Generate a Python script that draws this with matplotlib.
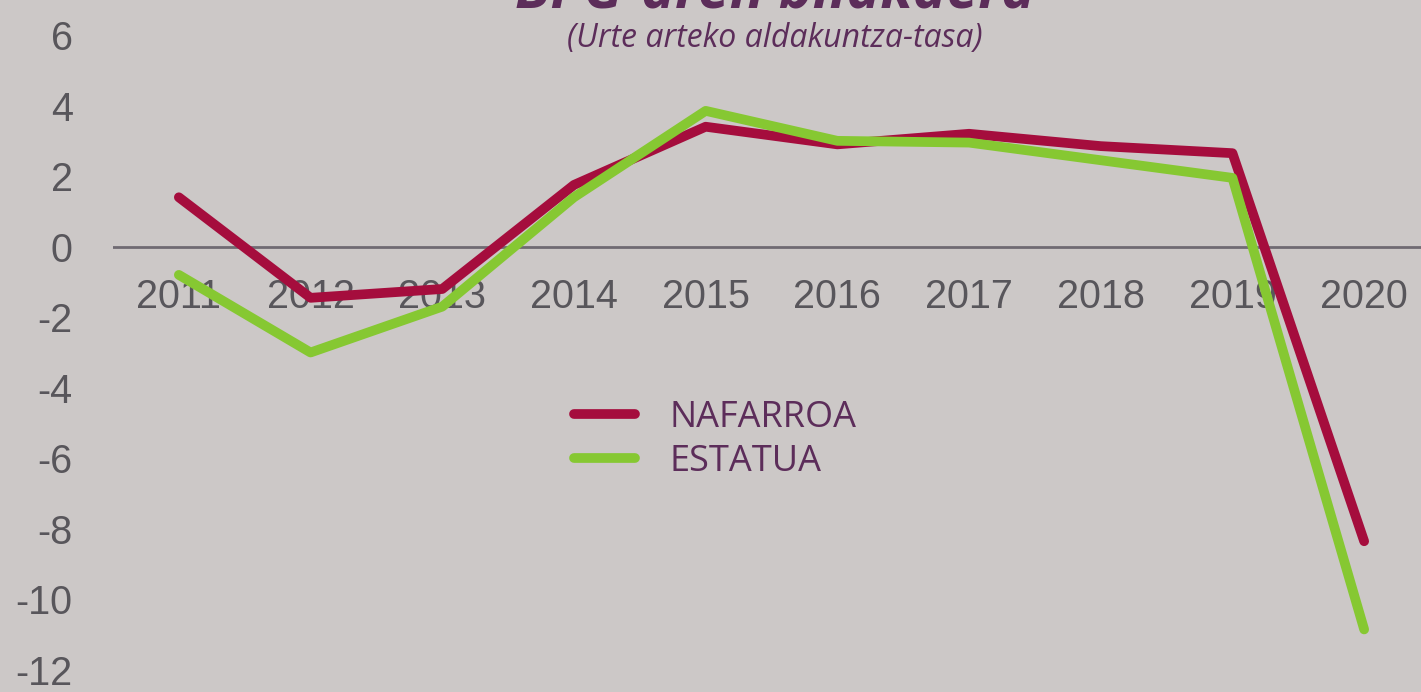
import matplotlib
matplotlib.use("Agg")
import matplotlib.pyplot as plt
from matplotlib.lines import Line2D

years = [2011, 2012, 2013, 2014, 2015, 2016, 2017, 2018, 2019, 2020]
nafarroa = [1.4, -1.45, -1.2, 1.75, 3.4, 2.9, 3.2, 2.85, 2.65, -8.35]
estatua = [-0.8, -3.0, -1.7, 1.4, 3.85, 3.0, 2.95, 2.45, 1.95, -10.85]
yticks = [6, 4, 2, 0, -2, -4, -6, -8, -10, -12]
series_names = ["NAFARROA", "ESTATUA"]
title = "BPG-aren bilakaera"
subtitle = "(Urte arteko aldakuntza-tasa)"

BG = "#CCC8C7"
RED = "#A50D3D"
GREEN = "#86C832"
PURPLE = "#5C2D5A"
GRAY = "#58565B"

W, H = 1421, 692
fig = plt.figure(figsize=(W / 100, H / 100), dpi=100)
fig.patch.set_facecolor(BG)

left = 113 / W
right = 1430 / W
top = 1 - 35 / H
bottom = 1 - 670 / H
ax = fig.add_axes([left, bottom, right - left, top - bottom])
ax.set_facecolor(BG)
ax.set_xlim(2010.5, 2020.5)
ax.set_ylim(-12, 6)
for s in ax.spines.values():
    s.set_visible(False)

ax.axhline(0, color="#6F6A72", lw=2.0, zorder=1)

LW = 7.0
ax.plot(years, nafarroa, color=RED, lw=LW, solid_capstyle="round",
        solid_joinstyle="round", zorder=3, clip_on=False)
ax.plot(years, estatua, color=GREEN, lw=LW, solid_capstyle="round",
        solid_joinstyle="round", zorder=4, clip_on=False)

ax.set_xticks([])
ax.set_yticks(yticks)
ax.set_yticklabels([str(t) for t in yticks])
ax.tick_params(axis="y", length=0, pad=29, labelsize=28.5, labelcolor=GRAY)
for lab in ax.get_yticklabels():
    lab.set_fontfamily("Liberation Sans")

for yr in years:
    ax.annotate(str(yr), xy=(yr, 0), xytext=(0, -36), textcoords="offset points",
                ha="center", va="center", fontsize=28.5, color=GRAY,
                family="Liberation Sans", zorder=2)

handles = [Line2D([], [], color=RED, lw=LW, solid_capstyle="round"),
           Line2D([], [], color=GREEN, lw=LW, solid_capstyle="round")]
leg = fig.legend(handles, series_names, loc="center left",
                 bbox_to_anchor=(574 / W, 1 - 440 / H), frameon=False,
                 borderpad=0, borderaxespad=0, handlelength=1.68,
                 handletextpad=0.96, labelspacing=0.22,
                 prop={"family": "Open Sans", "size": 26})
for t in leg.get_texts():
    t.set_color(PURPLE)

fig.text(775 / W, 1 - 7 / H, title, ha="center", va="baseline",
         fontsize=41, fontweight="bold", fontstyle="italic",
         family="Open Sans", color=PURPLE)
fig.text(775 / W, 1 - 38 / H, subtitle, ha="center", va="center",
         fontsize=23, fontstyle="italic", family="Open Sans", color=PURPLE)

fig.savefig("out.png", dpi=100, facecolor=BG)
